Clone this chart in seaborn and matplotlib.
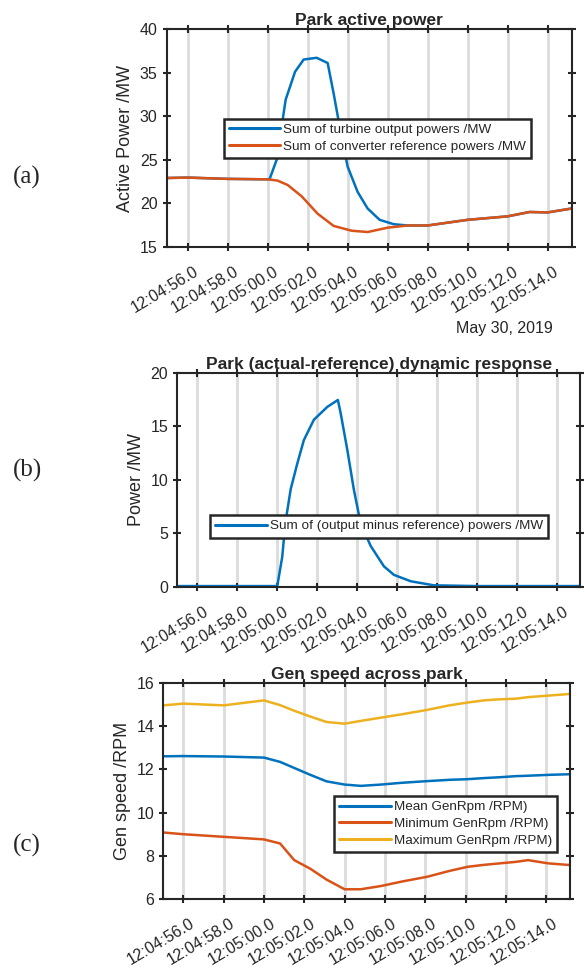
import pandas as pd
import matplotlib
matplotlib.use('Agg')
import matplotlib.pyplot as plt
import matplotlib.transforms as mtransforms
import seaborn as sns

sns.set_style('white')
plt.rcParams['font.family'] = ['Liberation Sans', 'DejaVu Sans']

# time in seconds after 12:04:00 on May 30, 2019
t_out = [54.95, 56.0, 58.0, 60.0, 60.1, 60.45, 60.9, 61.37, 61.8, 62.45, 63.0, 63.3,
         63.6, 64.0, 64.5, 65.0, 65.6, 66.3, 67.0, 68.0, 70.0, 72.0, 73.1, 74.0, 75.2]
p_out = [22.9, 22.95, 22.8, 22.75, 22.8, 25.0, 31.9, 35.1, 36.5, 36.7, 36.1, 32.6,
         28.8, 24.2, 21.3, 19.4, 18.1, 17.6, 17.45, 17.45, 18.1, 18.5, 19.0, 18.95, 19.4]

t_ref = [54.95, 56.0, 58.0, 60.0, 60.5, 61.0, 61.7, 62.5, 63.3, 64.2, 65.0, 66.0, 67.0,
         68.0, 70.0, 72.0, 73.1, 74.0, 75.2]
p_ref = [22.9, 22.95, 22.8, 22.75, 22.6, 22.1, 20.8, 18.8, 17.4, 16.85, 16.7, 17.2, 17.45,
         17.45, 18.1, 18.5, 19.0, 18.95, 19.4]

t_diff = [55.0, 58.0, 60.0, 60.25, 60.4, 60.67, 61.0, 61.33, 61.83, 62.5, 63.03, 63.17,
          63.5, 63.83, 64.17, 64.67, 65.33, 65.83, 66.67, 67.83, 70.0, 75.2]
p_diff = [0.05, 0.05, 0.05, 2.8, 5.9, 9.1, 11.5, 13.7, 15.6, 16.8, 17.45, 16.2,
          12.8, 9.05, 5.9, 3.8, 1.9, 1.1, 0.5, 0.12, 0.05, 0.05]

t_rpm = [55.0, 56.0, 58.0, 60.0, 60.8, 61.5, 62.3, 63.1, 64.0, 64.8, 65.8, 66.8,
         68.1, 69.2, 70.1, 70.9, 71.7, 72.5, 73.1, 74.1, 75.2]
rpm_mean = [12.61, 12.62, 12.6, 12.55, 12.35, 12.07, 11.75, 11.45, 11.3, 11.24, 11.3, 11.38,
            11.46, 11.52, 11.55, 11.6, 11.64, 11.69, 11.71, 11.75, 11.78]
rpm_min = [9.08, 9.0, 8.88, 8.76, 8.57, 7.8, 7.4, 6.9, 6.45, 6.45, 6.6, 6.8,
           7.03, 7.3, 7.49, 7.58, 7.65, 7.72, 7.8, 7.65, 7.57]
rpm_max = [14.97, 15.05, 14.97, 15.2, 14.98, 14.72, 14.45, 14.2, 14.12, 14.25, 14.4, 14.55,
           14.76, 14.97, 15.1, 15.2, 15.25, 15.28, 15.35, 15.42, 15.5]

tick_secs = [56, 58, 60, 62, 64, 66, 68, 70, 72, 74]

base = pd.Timestamp('2019-05-30 12:04:00')
def to_time(secs):
    return base + pd.to_timedelta(secs, unit='s')

BLUE, ORANGE, YELLOW = '#0072BD', '#D95319', '#EDB120'
DARK = '#262626'
LW = 1.8

fig = plt.figure(figsize=(5.85, 9.68), dpi=100)
ax_a = fig.add_axes([0.285, 0.745, 0.692, 0.225])
ax_b = fig.add_axes([0.303, 0.394, 0.689, 0.221])
ax_c = fig.add_axes([0.279, 0.0713, 0.696, 0.223])

sns.lineplot(x=to_time(t_out), y=p_out, ax=ax_a, color=BLUE, linewidth=LW,
             label='Sum of turbine output powers /MW')
sns.lineplot(x=to_time(t_ref), y=p_ref, ax=ax_a, color=ORANGE, linewidth=LW,
             label='Sum of converter reference powers /MW')
sns.lineplot(x=to_time(t_diff), y=p_diff, ax=ax_b, color=BLUE, linewidth=LW,
             label='Sum of (output minus reference) powers /MW')
sns.lineplot(x=to_time(t_rpm), y=rpm_mean, ax=ax_c, color=BLUE, linewidth=LW,
             label='Mean GenRpm /RPM)')
sns.lineplot(x=to_time(t_rpm), y=rpm_min, ax=ax_c, color=ORANGE, linewidth=LW,
             label='Minimum GenRpm /RPM)')
sns.lineplot(x=to_time(t_rpm), y=rpm_max, ax=ax_c, color=YELLOW, linewidth=LW,
             label='Maximum GenRpm /RPM)')

setup = [
    (ax_a, 'Park active power', 'Active Power /MW', (15, 40), [15, 20, 25, 30, 35, 40],
     (54.95, 75.2), (0.141, 0.408)),
    (ax_b, 'Park (actual-reference) dynamic response', 'Power /MW', (0, 20), [0, 5, 10, 15, 20],
     (55.0, 75.15), (0.082, 0.229)),
    (ax_c, 'Gen speed across park', 'Gen speed /RPM', (6, 16), [6, 8, 10, 12, 14, 16],
     (55.0, 75.2), (0.42, 0.218)),
]
label_shift = mtransforms.ScaledTranslation(6 / 100, -8 / 100, fig.dpi_scale_trans)
ticks = to_time(tick_secs)
for ax, title, ylabel, ylim, yticks, xlim, leg_pos in setup:
    ax.set_title(title, fontsize=12.5, fontweight='bold', pad=3)
    ax.set_ylabel(ylabel, fontsize=13, color=DARK, labelpad=4)
    ax.set_xlabel('')
    ax.set_ylim(*ylim)
    ax.set_yticks(yticks)
    ax.set_xlim(to_time(xlim[0]), to_time(xlim[1]))
    ax.set_xticks(ticks)
    ax.set_xticklabels([t.strftime('%H:%M:%S') + '.0' for t in ticks], rotation=31,
                       ha='right', va='top', rotation_mode='anchor', fontsize=11.5)
    ax.grid(axis='x', color='#DCDCDC', linewidth=2)
    ax.set_axisbelow(True)
    ax.tick_params(axis='both', which='major', direction='inout', length=6, width=1.5,
                   color=DARK, labelcolor=DARK,
                   top=True, right=True, bottom=True, left=True)
    ax.tick_params(axis='y', labelsize=11.5)
    for lab in ax.get_xticklabels():
        lab.set_transform(lab.get_transform() + label_shift)
    for sp in ax.spines.values():
        sp.set_linewidth(1.5)
        sp.set_color(DARK)
    leg = ax.legend(loc='lower left', bbox_to_anchor=leg_pos, borderaxespad=0,
                    fontsize=9.7, handlelength=3.8, handletextpad=0.25, borderpad=0.38,
                    labelspacing=0.32, fancybox=False, framealpha=1)
    leg.get_frame().set_edgecolor(DARK)
    leg.get_frame().set_linewidth(1.8)
    for line in leg.get_lines():
        line.set_linewidth(2.2)

fig.text(0.945, 1 - 328 / 968, 'May 30, 2019', ha='right', va='center', fontsize=11.5, color=DARK)
for lab, ypix in [('(a)', 177), ('(b)', 470), ('(c)', 845)]:
    fig.text(0.022, 1 - ypix / 968, lab, ha='left', va='center', fontsize=18,
             family=['Liberation Serif', 'DejaVu Serif'])

fig.savefig('out.png', dpi=100)
